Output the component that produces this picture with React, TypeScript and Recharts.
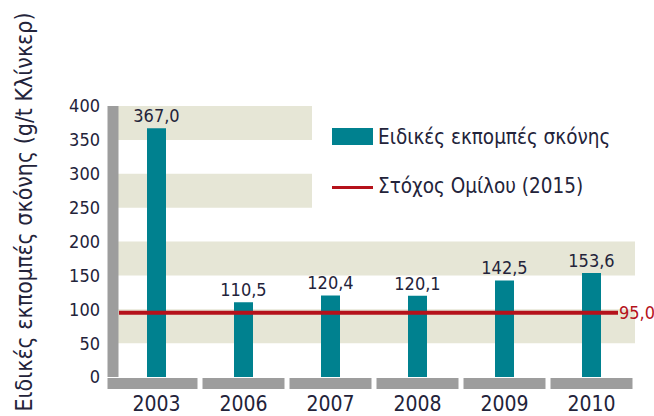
import { Bar, ComposedChart, LabelList, Legend, ReferenceArea, ReferenceLine, XAxis, YAxis } from 'recharts';

const years = ['2003', '2006', '2007', '2008', '2009', '2010'];
const dustValues = [367.0, 110.5, 120.4, 120.1, 142.5, 153.6];
const targetValue = 95.0;
const yTicks = [0, 50, 100, 150, 200, 250, 300, 350, 400];
const shadedBands = [
  [50, 100],
  [150, 200],
  [250, 300],
  [350, 400],
];
const seriesName = 'Ειδικές εκπομπές σκόνης';
const targetName = 'Στόχος Ομίλου (2015)';
const yTitle = 'Ειδικές εκπομπές σκόνης (g/t Κλίνκερ)';

const data = years.map((year, i) => ({ year, dust: dustValues[i] }));

const FONT = '"Liberation Sans Narrow", "DejaVu Sans Condensed", sans-serif';
const TEAL = '#00818f';
const RED = '#b5121b';
const BEIGE = '#e6e6d6';
const GRAY = '#9d9d9d';
const INK = '#23233a';

const fmt = (v: number) => v.toFixed(1).replace('.', ',');

function YearTick(props: any) {
  const { x, y, payload, index } = props;
  const half = 41;
  // first segment runs into the vertical axis bar
  const left = index === 0 ? 107.5 : x - half;
  return (
    <g>
      <rect x={left} y={y + 1} width={x + half - left} height={11} fill={GRAY} />
      <text x={x} y={y + 34} textAnchor="middle" fontSize={21} fill={INK} fontFamily={FONT}>
        {payload.value}
      </text>
    </g>
  );
}

function TargetLine(props: any) {
  const { x1, y1, x2, y2 } = props;
  return (
    <g>
      <line x1={x1 + 6} y1={y1} x2={x2 - 17} y2={y2} stroke={RED} strokeWidth={4} />
      <text x={x2 - 16} y={y1} dy="0.35em" fill={RED} fontSize={18} fontFamily={FONT}>
        {fmt(targetValue)}
      </text>
    </g>
  );
}

function LegendBox() {
  return (
    <div style={{ position: 'relative', width: 342, height: 106, fontSize: 20.5, color: INK, fontFamily: FONT }}>
      <div style={{ position: 'absolute', left: 20, top: 24, width: 41, height: 17, background: TEAL }} />
      <span style={{ position: 'absolute', left: 66, top: 22, lineHeight: '22px', whiteSpace: 'nowrap' }}>{seriesName}</span>
      <div style={{ position: 'absolute', left: 20, top: 82, width: 41, height: 3, background: RED }} />
      <span style={{ position: 'absolute', left: 66, top: 71, lineHeight: '22px', whiteSpace: 'nowrap' }}>{targetName}</span>
    </div>
  );
}

export default function App() {
  return (
    <div style={{ position: 'absolute', left: 0, top: 0, width: 654, height: 416, background: '#fff', fontFamily: FONT }}>
      <ComposedChart width={654} height={416} data={data} margin={{ top: 106, right: 19, bottom: 0, left: 0 }}>
        {shadedBands.map(([a, b]) => (
          <ReferenceArea key={a} y1={a} y2={b} fill={BEIGE} fillOpacity={1} stroke="none" ifOverflow="visible" />
        ))}
        <XAxis
          dataKey="year"
          axisLine={false}
          tickLine={false}
          tickSize={0}
          tickMargin={0}
          interval={0}
          height={39}
          tick={<YearTick />}
        />
        <YAxis
          domain={[0, 400]}
          ticks={yTicks}
          interval={0}
          width={113}
          axisLine={{ stroke: GRAY, strokeWidth: 11 }}
          tickLine={false}
          tickSize={0}
          tickMargin={13}
          tick={{ fontSize: 18, fill: INK, fontFamily: FONT }}
          label={{
            content: () => (
              <text transform="translate(24 212) rotate(-90)" textAnchor="middle" dy="0.35em" fontSize={23} fill={INK} fontFamily={FONT}>
                {yTitle}
              </text>
            ),
          }}
        />
        <Bar dataKey="dust" name={seriesName} fill={TEAL} barSize={19} isAnimationActive={false}>
          <LabelList dataKey="dust" position="top" offset={6} formatter={(v: any) => fmt(Number(v))} fill={INK} fontSize={18} fontFamily={FONT} />
        </Bar>
        <ReferenceLine y={targetValue} shape={TargetLine} ifOverflow="visible" />
        <Legend
          content={<LegendBox />}
          layout="horizontal"
          verticalAlign="middle"
          align="center"
          wrapperStyle={{ left: 312, top: 104, width: 342, height: 106, background: '#fff' }}
        />
      </ComposedChart>
    </div>
  );
}
